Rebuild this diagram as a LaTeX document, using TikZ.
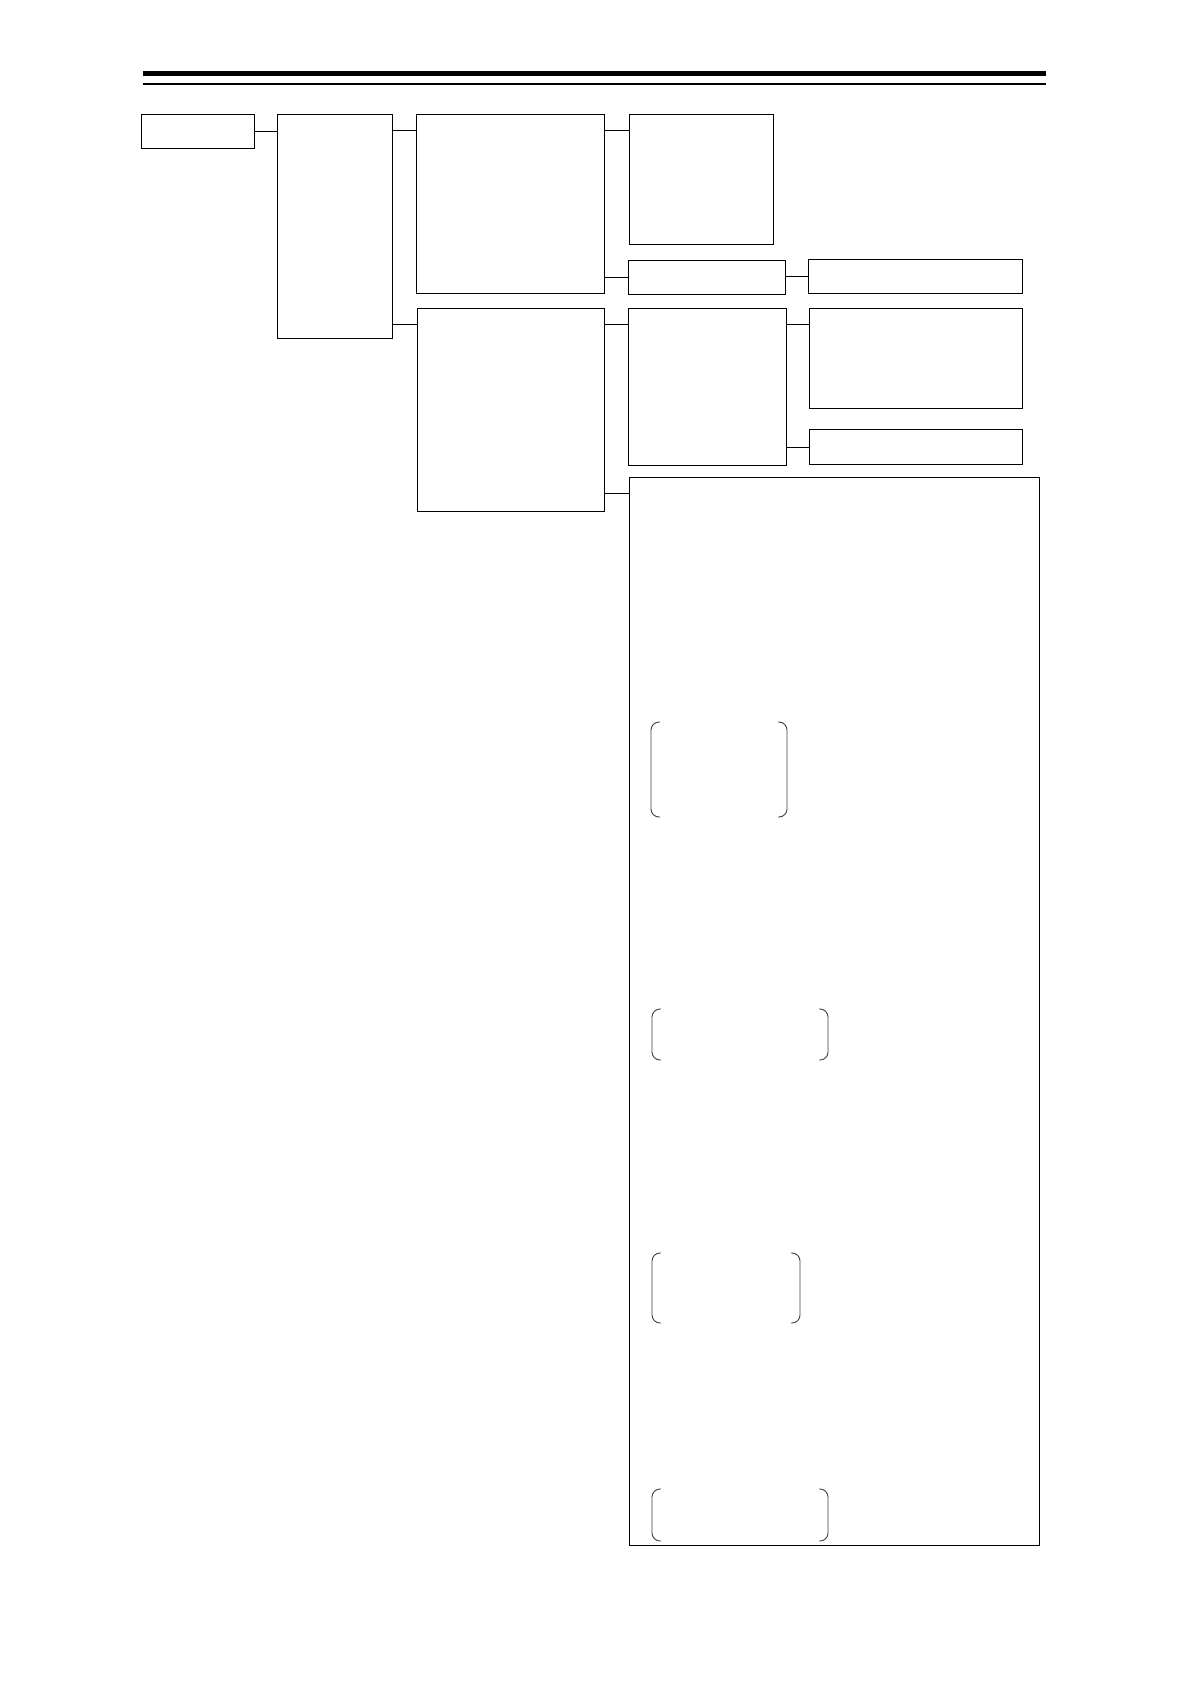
\documentclass[tikz,border=0pt]{standalone}
\usepackage{tikz}
\usetikzlibrary{positioning}
\usetikzlibrary{calc}

\tikzset{
  stagebox/.style 2 args={draw, line width=0.5pt, inner sep=0pt, outer sep=0pt, anchor=north west,
    minimum width=#1*0.5pt, minimum height=#2*0.5pt},
  link/.style={line width=0.5pt},
  brace/.style={line width=0.45pt, color=black!75, rounded corners=4pt}
}

\begin{document}
\begin{tikzpicture}[x=0.5pt,y=-0.5pt]

\path[fill=white,use as bounding box] (0,0) rectangle (1191,1684);

% header rules
\draw[line width=2.5pt] (143,73.5) -- (1046,73.5);
\draw[line width=1pt] (143,84) -- (1046,84);

% Level 0 and 1
  \node[stagebox={113}{34}] (b1) at (141,115) {};
  \node[stagebox={115}{224}] (b2) at (277,115) {};

% Level 2
  \node[stagebox={188}{179}] (b3) at (416,115) {};
  \node[stagebox={187}{202}] (b4) at (417,309) {};

% Level 3
  \node[stagebox={144}{130}] (b5) at (629,115) {};
  \node[stagebox={157}{34}] (b6) at (628,261) {};
  \node[stagebox={158}{156}] (b8) at (628,309) {};
  \node[stagebox={410}{1068}] (b11) at (629,477) {};

% Level 4
  \node[stagebox={214}{34}] (b7) at (808,260) {};
  \node[stagebox={213}{100}] (b9) at (809,309) {};
  \node[stagebox={213}{34}] (b10) at (809,430) {};

% connectors near the top of the child
\foreach \p/\c in {b2/b3, b2/b4, b3/b5, b4/b8, b8/b9, b4/b11}{
  \coordinate (j) at ([yshift=-8pt]\c.north west);
  \draw[link] (j) -- (j -| \p.east);
}

% connectors at mid height
\draw[link] (b1.east) -- (b1.east -| b2.west);
\draw[link] (b6.west) -- (b6.west -| b3.east);
\draw[link] (b7.west) -- (b7.west -| b6.east);
\draw[link] (b10.west) -- (b10.west -| b8.east);

% brackets inside the last box
\foreach \l/\r/\t/\b in {651/787/722/817, 652/828/1009/1060, 652/800/1253/1323, 652/828/1489/1541}{
  \draw[brace] (\l+9,\t) -- (\l,\t) -- (\l,\b) -- (\l+9,\b);
  \draw[brace] (\r-9,\t) -- (\r,\t) -- (\r,\b) -- (\r-9,\b);
}

\end{tikzpicture}
\end{document}
